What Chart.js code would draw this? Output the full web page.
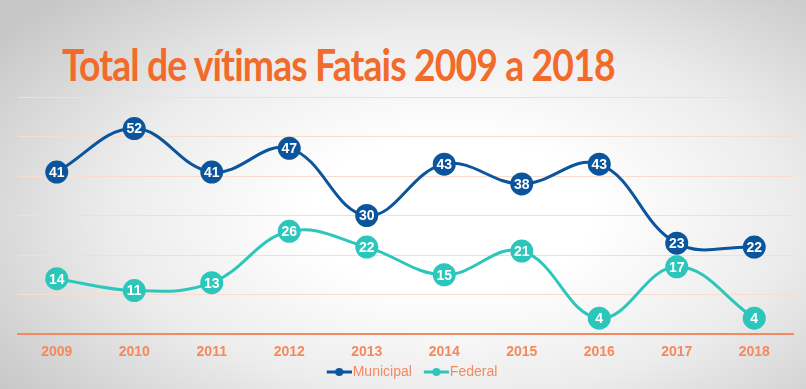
<!DOCTYPE html>
<html>
<head>
<meta charset="utf-8">
<script src="https://cdn.jsdelivr.net/npm/chart.js@4.4.1/dist/chart.umd.min.js"></script>
<style>
  html, body { margin: 0; padding: 0; }
  body {
    width: 806px; height: 389px; overflow: hidden; position: relative;
    background: radial-gradient(ellipse 70% 78% at 56% 55%, #ffffff 25%, #ececec 60%, #c6c6c6 100%);
  }
  #title {
    position: absolute; left: 62px; top: 39px; margin: 0;
    font-family: Lato, sans-serif; font-weight: 700; font-size: 43px;
    color: #f26b2a; white-space: nowrap; transform-origin: 0 0;
    letter-spacing: -1px;
  }
  #wrap { position: absolute; left: 0; top: 0; width: 806px; height: 389px; }
</style>
</head>
<body>
<h1 id="title">Total de vítimas Fatais 2009 a 2018</h1>
<div id="wrap"><canvas id="chart"></canvas></div>
<script>
// data
const years = ['2009', '2010', '2011', '2012', '2013', '2014', '2015', '2016', '2017', '2018'];
const municipal = [41, 52, 41, 47, 30, 43, 38, 43, 23, 22];
const federal = [14, 11, 13, 26, 22, 15, 21, 4, 17, 4];
const seriesNames = ['Municipal', 'Federal'];
const yMin = 0, yMax = 60, yStep = 10;

const blue = '#0b559d';
const teal = '#2cc6bb';
const orange = '#f4895f';

// squeeze the title to the width it has in the picture
const t = document.getElementById('title');
t.style.transform = 'scaleX(' + (553 / t.scrollWidth) + ')';

// line+dot marker for the legend; blank space on the left gives the gap
// between items, the line ends right against the label text
function legendMarker(color) {
  const c = document.createElement('canvas');
  c.width = 40; c.height = 10;
  const x = c.getContext('2d');
  x.strokeStyle = color; x.lineWidth = 3;
  x.beginPath(); x.moveTo(15, 5); x.lineTo(40, 5); x.stroke();
  x.fillStyle = color;
  x.beginPath(); x.arc(27.5, 5, 4, 0, Math.PI * 2); x.fill();
  return c;
}

// values written inside the circles
const pointLabels = {
  id: 'pointLabels',
  afterDatasetsDraw(chart) {
    const ctx = chart.ctx;
    ctx.save();
    ctx.fillStyle = '#ffffff';
    ctx.font = 'bold 14px "Liberation Sans", Arial, sans-serif';
    ctx.textAlign = 'center';
    ctx.textBaseline = 'middle';
    chart.data.datasets.forEach((ds, i) => {
      chart.getDatasetMeta(i).data.forEach((pt, j) => {
        ctx.fillText(ds.data[j], pt.x, pt.y + 1);
      });
    });
    ctx.restore();
  }
};

new Chart(document.getElementById('chart'), {
  type: 'line',
  data: {
    labels: years,
    datasets: [{
      label: seriesNames[0],
      data: municipal,
      borderColor: blue,
      backgroundColor: blue,
      pointBackgroundColor: blue,
      pointBorderColor: blue,
      borderWidth: 3,
      pointRadius: 10,
      pointHoverRadius: 10,
      tension: 0.4
    }, {
      label: seriesNames[1],
      data: federal,
      borderColor: teal,
      backgroundColor: teal,
      pointBackgroundColor: teal,
      pointBorderColor: teal,
      borderWidth: 3,
      pointRadius: 10,
      pointHoverRadius: 10,
      tension: 0.4
    }]
  },
  options: {
    responsive: true,
    maintainAspectRatio: false,
    animation: false,
    layout: { padding: { left: 18, right: 9, top: 97, bottom: 0 } },
    scales: {
      x: {
        offset: true,
        grid: { display: false, drawTicks: false },
        border: { display: true, color: orange, width: 2 },
        ticks: {
          color: orange,
          padding: 10,
          font: { family: '"Liberation Sans", Arial, sans-serif', size: 14, weight: 'bold' }
        },
        afterFit(scale) { scale.height = 28; }
      },
      y: {
        min: yMin,
        max: yMax,
        ticks: { display: false, stepSize: yStep },
        grid: { color: '#f8dccd', lineWidth: 1, drawTicks: false },
        border: { display: false }
      }
    },
    plugins: {
      legend: {
        position: 'bottom',
        labels: {
          color: orange,
          font: { family: '"Liberation Sans", Arial, sans-serif', size: 14 },
          usePointStyle: true,
          pointStyleWidth: 28,
          boxHeight: 10,
          padding: 3,
          generateLabels(chart) {
            return chart.data.datasets.map((ds, i) => ({
              text: ds.label,
              fontColor: orange,
              pointStyle: legendMarker(ds.borderColor),
              strokeStyle: ds.borderColor,
              fillStyle: ds.borderColor,
              lineWidth: 0,
              datasetIndex: i,
              hidden: false
            }));
          }
        }
      },
      tooltip: { enabled: false }
    }
  },
  plugins: [pointLabels]
});
</script>
</body>
</html>
